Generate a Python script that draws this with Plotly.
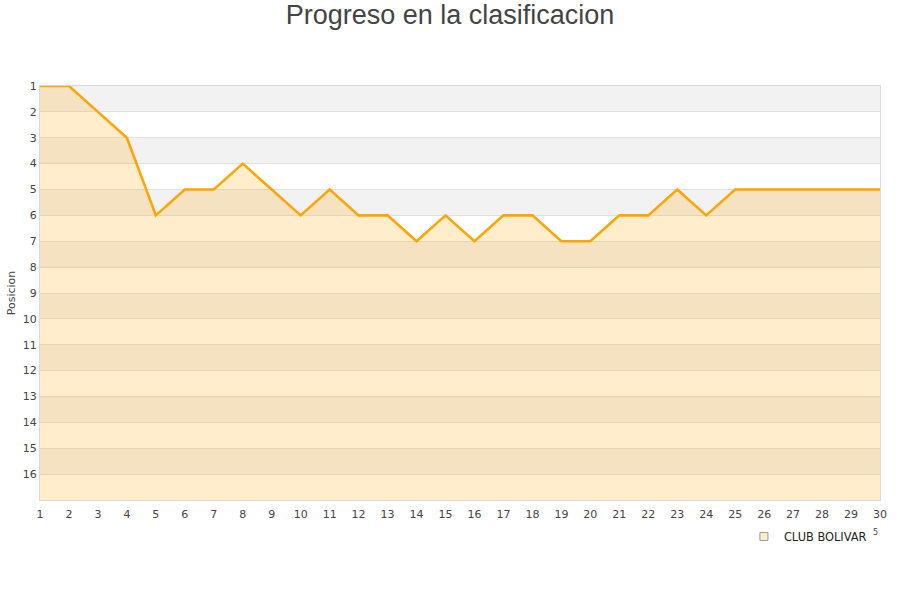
import plotly.graph_objects as go

# Jornadas y posicion de CLUB BOLIVAR
rounds = list(range(1, 31))
positions = [1, 1, 2, 3, 6, 5, 5, 4, 5, 6, 5, 6, 6, 7, 6, 7, 6, 6, 7, 7,
             6, 6, 5, 6, 5, 5, 5, 5, 5, 5]
team = "CLUB BOLIVAR"
y_ticks = list(range(1, 17))
y_floor = 17

LINE = "#FFA500"
FILL = "rgba(255,165,0,0.2)"

fig = go.Figure()

# baseline so the area fills down to the bottom of the reversed axis
fig.add_trace(go.Scatter(
    x=rounds, y=[y_floor] * len(rounds), mode="lines",
    line=dict(width=0, color="rgba(0,0,0,0)"),
    hoverinfo="skip", showlegend=False,
))
fig.add_trace(go.Scatter(
    x=rounds, y=positions, mode="lines", fill="tonexty",
    fillcolor=FILL, line=dict(color=LINE, width=2.6),
    name=team, showlegend=False,
))
# legend swatch
fig.add_trace(go.Scatter(
    x=[None], y=[None], mode="markers", name=team,
    marker=dict(symbol="square", size=8, color="#FFEDCC",
                line=dict(color="#999999", width=1)),
))

# alternating row bands
shapes = []
for t in y_ticks[::2]:
    shapes.append(dict(
        type="rect", xref="paper", yref="y", x0=0, x1=1, y0=t, y1=t + 1,
        fillcolor="#F2F2F2", line=dict(width=0), layer="below",
    ))

fig.update_layout(
    width=900, height=600,
    margin=dict(l=40, r=20, t=86, b=100),
    paper_bgcolor="white", plot_bgcolor="white",
    font=dict(family="DejaVu Sans", size=11, color="#444444"),
    title=dict(text="Progreso en la clasificacion", x=0.5, xanchor="center",
               y=0.975, yanchor="middle",
               font=dict(family="Liberation Sans", size=27, color="#444444")),
    shapes=shapes,
    showlegend=True,
    legend=dict(x=0.838, y=-0.053, xanchor="left", yanchor="top",
                orientation="h", font=dict(size=11.4, color="#222222"),
                bgcolor="rgba(0,0,0,0)"),
    annotations=[dict(text="5", x=1.0, y=-0.095, xref="paper", yref="paper",
                      showarrow=False, font=dict(size=8, color="#444444"))],
)
fig.update_xaxes(
    range=[rounds[0], rounds[-1]], tickmode="array", tickvals=rounds,
    showgrid=False, zeroline=False, ticks="", showline=True,
    linecolor="#D9D9D9", mirror=True, ticklabelstandoff=4,
)
fig.update_yaxes(
    range=[y_floor, 1], tickmode="array", tickvals=y_ticks,
    showgrid=True, gridcolor="#E0E0E0", gridwidth=1, zeroline=False,
    ticks="", showline=True, linecolor="#D9D9D9", mirror=True,
    title=dict(text="Posicion", font=dict(size=11), standoff=4),
)

# drop the page's default body margin so the figure sits at the top-left
fig.write_html("out.html", config={"displayModeBar": False},
               post_script="document.body.style.margin='0';")
